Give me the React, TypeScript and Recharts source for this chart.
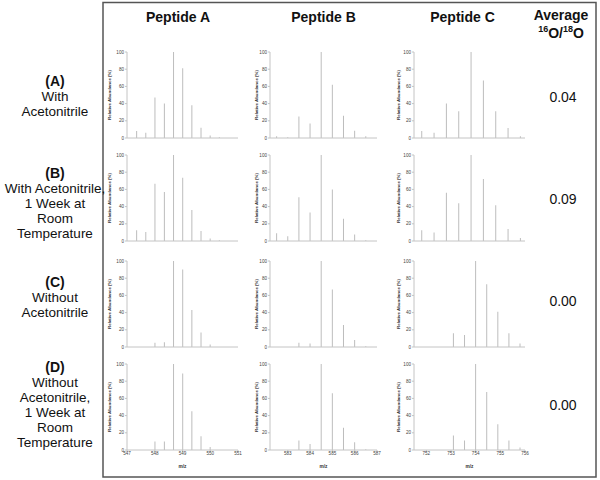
import React from 'react';
import { BarChart, Bar, XAxis, YAxis } from 'recharts';

// ---- Data ----
const peptides = ['Peptide A', 'Peptide B', 'Peptide C'];
const conditionLabels = [
  ['(A)', 'With', 'Acetonitrile'],
  ['(B)', 'With Acetonitrile,', '1 Week at', 'Room', 'Temperature'],
  ['(C)', 'Without', 'Acetonitrile'],
  ['(D)', 'Without', 'Acetonitrile,', '1 Week at', 'Room', 'Temperature'],
];
const averageRatios = ['0.04', '0.09', '0.00', '0.00'];

const pepAMz = [547.35, 547.68, 548.01, 548.35, 548.68, 549.01, 549.34, 549.67, 550.0, 550.33];
const pepA_A = [8, 6, 47, 40, 100, 81, 38, 12, 3, 1];
const pepA_B = [12.5, 10.5, 66.5, 57, 100, 73.5, 36, 11.7, 3, 1];
const pepA_C = [0, 0, 5, 5.5, 100, 90, 43, 17, 3, 0];
const pepA_D = [0, 0, 10, 10, 100, 89, 45, 16, 3.5, 0];
const pepATicks = [547, 548, 549, 550, 551];

const pepBMz = [582.5, 583.0, 583.5, 584.0, 584.5, 585.0, 585.5, 586.0, 586.5];
const pepB_A = [2, 1, 25, 17, 100, 62, 26, 8.5, 2];
const pepB_B = [9, 5.5, 51, 33, 100, 60, 26, 7.5, 1];
const pepB_C = [0, 0, 5, 4, 100, 67, 25.5, 8, 1];
const pepB_D = [0, 0, 11, 7, 100, 66, 26, 9, 1];
const pepBTicks = [583, 584, 585, 586, 587];

const pepCMzEarly = [751.8, 752.3, 752.8, 753.3, 753.8, 754.3, 754.8, 755.3, 755.8];
const pepC_A = [8, 6, 40, 31, 100, 67, 31, 11.5, 2];
const pepC_B = [12.5, 10, 56, 44, 100, 72, 41.5, 14, 3.5];
const pepCMzLate = [753.1, 753.55, 754.0, 754.45, 754.9, 755.35, 755.8];
const pepC_C = [16, 14, 100, 73, 41, 16, 4];
const pepC_D = [17, 11, 100, 67.5, 30, 11, 3];
const pepCTicks = [752, 753, 754, 755, 756];

const yTicks = [0, 20, 40, 60, 80, 100];

// ---- Layout ----
const FONT = '"Liberation Sans", Arial, sans-serif';
const rowTops = [52, 155, 261, 364];
const PLOT_H = 86;
const columns = [
  { left: 127.3, width: 111, domain: [547, 551], ticks: pepATicks, gap: 17.3 },
  { left: 269.7, width: 107, domain: [582.2, 587], ticks: pepBTicks, gap: 14 },
  { left: 414.3, width: 111, domain: [751.5, 756], ticks: pepCTicks, gap: 16 },
];
const panelData = [
  [[pepAMz, pepA_A], [pepBMz, pepB_A], [pepCMzEarly, pepC_A]],
  [[pepAMz, pepA_B], [pepBMz, pepB_B], [pepCMzEarly, pepC_B]],
  [[pepAMz, pepA_C], [pepBMz, pepB_C], [pepCMzLate, pepC_C]],
  [[pepAMz, pepA_D], [pepBMz, pepB_D], [pepCMzLate, pepC_D]],
];
const labelStarts = [81, 173, 282, 367];
const ratioY = [97, 199, 301, 405];

function Spectrum(props: any) {
  const { mz, ab, col, top, bottom } = props;
  const data = mz.map((m: number, i: number) => ({ mz: m, ab: ab[i] }));
  const yW = 24;
  const mt = 4;
  const mr = 6;
  const xH = bottom ? 26 : 3;
  const width = yW + col.width + mr;
  const height = mt + PLOT_H + xH;
  const lx = yW - col.gap;
  const ly = mt + PLOT_H / 2;
  return (
    <div style={{ position: 'absolute', left: col.left - yW, top: top - mt }}>
      <BarChart
        width={width}
        height={height}
        data={data}
        margin={{ top: mt, right: mr, bottom: 0, left: 0 }}
      >
        <XAxis
          type="number"
          dataKey="mz"
          domain={col.domain}
          ticks={col.ticks}
          allowDataOverflow
          interval={0}
          height={xH}
          stroke="#c4c4c4"
          tickSize={2}
          tickMargin={0}
          tick={bottom ? { fontSize: 4.6, fill: '#444', fontFamily: FONT } : false}
          label={
            bottom
              ? {
                  content: () => (
                    <text
                      x={yW + col.width / 2}
                      y={mt + PLOT_H + 16.5}
                      textAnchor="middle"
                      dominantBaseline="central"
                      fontSize={4.8}
                      fontWeight="bold"
                      fill="#333"
                      fontFamily={FONT}
                    >
                      m/z
                    </text>
                  ),
                }
              : undefined
          }
        />
        <YAxis
          type="number"
          domain={[0, 100]}
          ticks={yTicks}
          interval={0}
          width={yW}
          stroke="#c4c4c4"
          tickSize={2}
          tickMargin={1}
          tick={{ fontSize: 4.6, fill: '#444', fontFamily: FONT }}
          label={{
            content: () => (
              <text
                x={lx}
                y={ly}
                transform={`rotate(-90 ${lx} ${ly})`}
                textAnchor="middle"
                dominantBaseline="central"
                fontSize={4.4}
                fontWeight="bold"
                fill="#333"
                fontFamily={FONT}
              >
                Relative Abundance (%)
              </text>
            ),
          }}
        />
        <Bar dataKey="ab" fill="#bdbdbd" barSize={1} isAnimationActive={false} />
      </BarChart>
    </div>
  );
}

export default function App() {
  const headerX = [178, 323.5, 462.5];
  return (
    <div
      style={{
        position: 'absolute',
        left: 0,
        top: 0,
        width: 600,
        height: 480,
        background: '#fff',
        fontFamily: FONT,
      }}
    >
      {panelData.map((row, r) =>
        row.map((pd, c) => (
          <Spectrum
            key={`${r}-${c}`}
            mz={pd[0]}
            ab={pd[1]}
            col={columns[c]}
            top={rowTops[r]}
            bottom={r === 3}
          />
        ))
      )}
      <svg
        width={600}
        height={480}
        style={{ position: 'absolute', left: 0, top: 0, pointerEvents: 'none' }}
      >
        <rect x={103} y={2.5} width={493} height={474.5} fill="none" stroke="#555" strokeWidth={1.5} />
        {peptides.map((p, i) => (
          <text
            key={p}
            x={headerX[i]}
            y={17}
            textAnchor="middle"
            dominantBaseline="central"
            fontSize={14}
            fontWeight="bold"
            fill="#111"
            fontFamily={FONT}
          >
            {p}
          </text>
        ))}
        <text x={561} y={15} textAnchor="middle" dominantBaseline="central" fontSize={14} fontWeight="bold" fill="#111" fontFamily={FONT}>
          Average
        </text>
        <text x={561} y={33} textAnchor="middle" dominantBaseline="central" fontSize={14} fontWeight="bold" fill="#111" fontFamily={FONT}>
          <tspan fontSize={9} dy={-4}>16</tspan>
          <tspan dy={4}>O/</tspan>
          <tspan fontSize={9} dy={-4}>18</tspan>
          <tspan dy={4}>O</tspan>
        </text>
        {averageRatios.map((v, i) => (
          <text key={i} x={563} y={ratioY[i]} textAnchor="middle" dominantBaseline="central" fontSize={14} fill="#111" fontFamily={FONT}>
            {v}
          </text>
        ))}
        {conditionLabels.map((lines, i) =>
          lines.map((ln, j) => (
            <text
              key={`${i}-${j}`}
              x={55}
              y={labelStarts[i] + j * 15}
              textAnchor="middle"
              dominantBaseline="central"
              fontSize={j === 0 ? 14 : 13.5}
              fontWeight={j === 0 ? 'bold' : 'normal'}
              fill="#111"
              fontFamily={FONT}
            >
              {ln}
            </text>
          ))
        )}
      </svg>
    </div>
  );
}
